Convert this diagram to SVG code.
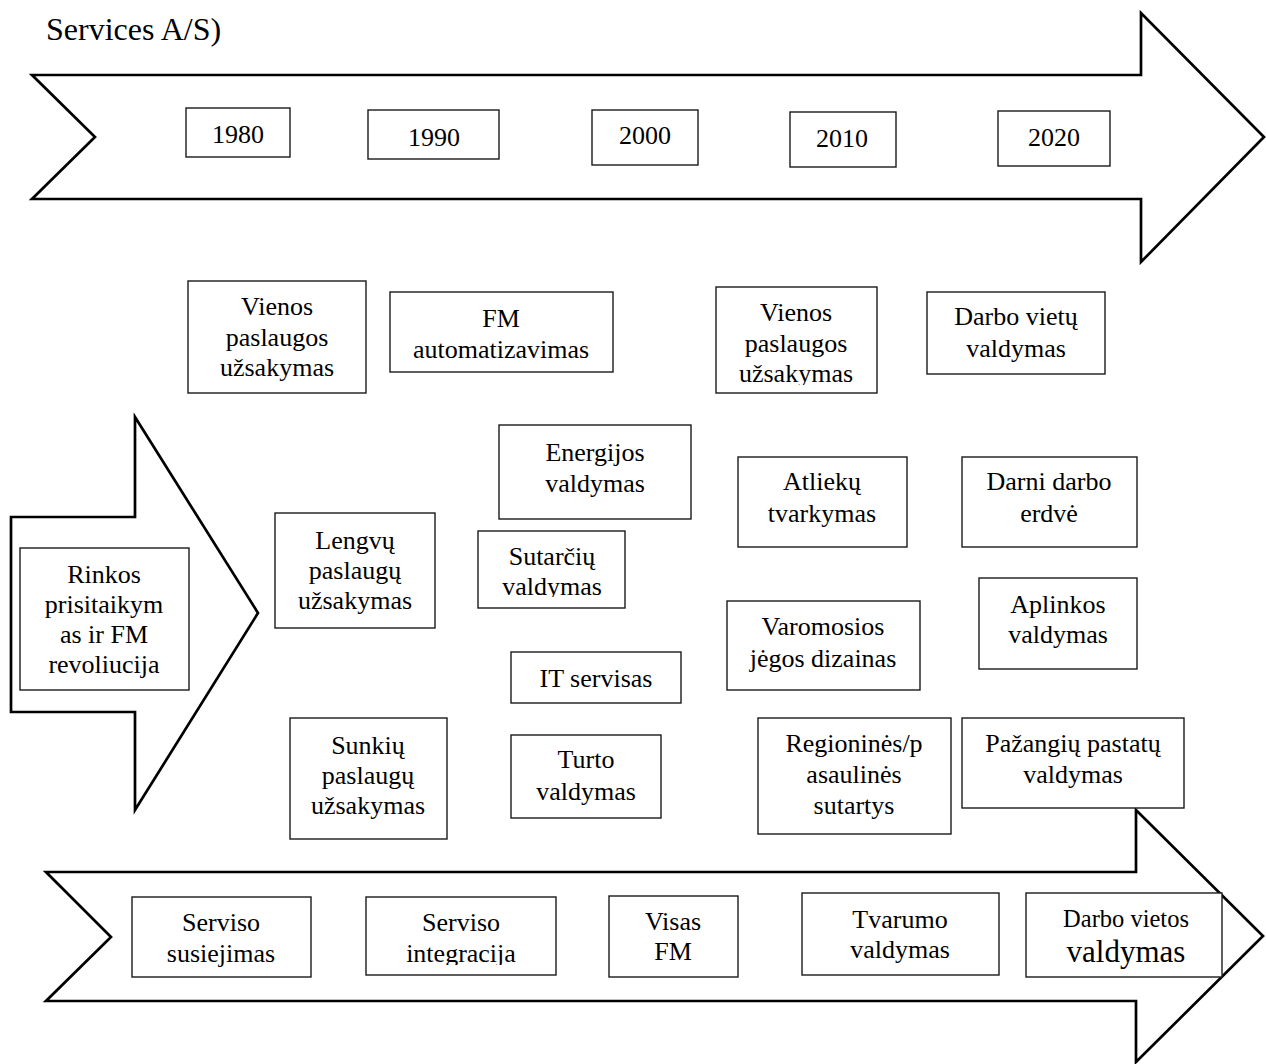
<svg xmlns="http://www.w3.org/2000/svg" width="1266" height="1064" viewBox="0 0 1266 1064">
  <style>
    .arrow { fill: #ffffff; stroke: #000000; stroke-width: 2.7; stroke-linejoin: miter; }
    .box { fill: #ffffff; stroke: #1a1a1a; stroke-width: 1.4; }
    .t { font-family: "Liberation Serif", "Times New Roman", serif; font-size: 26px; fill: #000000; text-anchor: middle; }
    .title { font-family: "Liberation Serif", "Times New Roman", serif; font-size: 32px; fill: #000000; }
  </style>
  <defs>
    <!-- inner text-frame limits: lines that overflow get cut -->
    <clipPath id="clip-vienos2"><rect x="716" y="287" width="161" height="98"/></clipPath>
    <clipPath id="clip-sutarciu"><rect x="478" y="531" width="147" height="66"/></clipPath>
    <clipPath id="clip-integracija"><rect x="366" y="897" width="190" height="68"/></clipPath>
  </defs>
  <rect width="1266" height="1064" fill="#ffffff"/>

  <text class="title" x="46" y="40">Services A/S)</text>

  <g id="arrows">
    <polygon class="arrow" points="32,75 1141,75 1141,13 1264,137 1141,262 1141,199 32,199 95,137"/>
    <polygon class="arrow" points="11,517 135,517 135,417 258,613 135,810 135,712 11,712"/>
    <polygon class="arrow" points="46,872 1136,872 1136,810 1263,936 1136,1062 1136,1001 46,1001 111,937"/>
  </g>

  <!-- timeline years -->
  <g id="y1980"><rect class="box" x="186" y="108" width="104" height="49"/><text class="t" x="238" y="143">1980</text></g>
  <g id="y1990"><rect class="box" x="368" y="110" width="131" height="49"/><text class="t" x="434" y="146">1990</text></g>
  <g id="y2000"><rect class="box" x="592" y="110" width="106" height="55"/><text class="t" x="645" y="144">2000</text></g>
  <g id="y2010"><rect class="box" x="790" y="112" width="106" height="55"/><text class="t" x="842" y="147">2010</text></g>
  <g id="y2020"><rect class="box" x="998" y="111" width="112" height="55"/><text class="t" x="1054" y="146">2020</text></g>

  <!-- service blocks -->
  <g id="vienos1"><rect class="box" x="188" y="281" width="178" height="112"/>
    <text class="t"><tspan x="277" y="315">Vienos</tspan><tspan x="277" y="346">paslaugos</tspan><tspan x="277" y="376">užsakymas</tspan></text></g>
  <g id="fm-auto"><rect class="box" x="390" y="292" width="223" height="80"/>
    <text class="t"><tspan x="501" y="327">FM</tspan><tspan x="501" y="358">automatizavimas</tspan></text></g>
  <g id="vienos2"><rect class="box" x="716" y="287" width="161" height="106"/>
    <text class="t" clip-path="url(#clip-vienos2)"><tspan x="796" y="321">Vienos</tspan><tspan x="796" y="352">paslaugos</tspan><tspan x="796" y="382">užsakymas</tspan></text></g>
  <g id="darbo-vietu"><rect class="box" x="927" y="292" width="178" height="82"/>
    <text class="t"><tspan x="1016" y="325">Darbo vietų</tspan><tspan x="1016" y="357">valdymas</tspan></text></g>
  <g id="energijos"><rect class="box" x="499" y="425" width="192" height="94"/>
    <text class="t"><tspan x="595" y="461">Energijos</tspan><tspan x="595" y="492">valdymas</tspan></text></g>
  <g id="atlieku"><rect class="box" x="738" y="457" width="169" height="90"/>
    <text class="t"><tspan x="822" y="490">Atliekų</tspan><tspan x="822" y="522">tvarkymas</tspan></text></g>
  <g id="darni"><rect class="box" x="962" y="457" width="175" height="90"/>
    <text class="t"><tspan x="1049" y="490">Darni darbo</tspan><tspan x="1049" y="522">erdvė</tspan></text></g>
  <g id="lengvu"><rect class="box" x="275" y="513" width="160" height="115"/>
    <text class="t"><tspan x="355" y="549">Lengvų</tspan><tspan x="355" y="579">paslaugų</tspan><tspan x="355" y="609">užsakymas</tspan></text></g>
  <g id="sutarciu"><rect class="box" x="478" y="531" width="147" height="77"/>
    <text class="t" clip-path="url(#clip-sutarciu)"><tspan x="552" y="565">Sutarčių</tspan><tspan x="552" y="595">valdymas</tspan></text></g>
  <g id="rinkos"><rect class="box" x="20" y="548" width="169" height="142"/>
    <text class="t"><tspan x="104" y="583">Rinkos</tspan><tspan x="104" y="613">prisitaikym</tspan><tspan x="104" y="643">as ir FM</tspan><tspan x="104" y="673">revoliucija</tspan></text></g>
  <g id="aplinkos"><rect class="box" x="979" y="578" width="158" height="91"/>
    <text class="t"><tspan x="1058" y="613">Aplinkos</tspan><tspan x="1058" y="643">valdymas</tspan></text></g>
  <g id="varomosios"><rect class="box" x="727" y="601" width="193" height="89"/>
    <text class="t"><tspan x="823" y="635">Varomosios</tspan><tspan x="823" y="667">jėgos dizainas</tspan></text></g>
  <g id="it"><rect class="box" x="511" y="652" width="170" height="51"/>
    <text class="t" x="596" y="687">IT servisas</text></g>
  <g id="sunkiu"><rect class="box" x="290" y="718" width="157" height="121"/>
    <text class="t"><tspan x="368" y="754">Sunkių</tspan><tspan x="368" y="784">paslaugų</tspan><tspan x="368" y="814">užsakymas</tspan></text></g>
  <g id="turto"><rect class="box" x="511" y="735" width="150" height="83"/>
    <text class="t"><tspan x="586" y="768">Turto</tspan><tspan x="586" y="800">valdymas</tspan></text></g>
  <g id="regionines"><rect class="box" x="758" y="718" width="193" height="116"/>
    <text class="t"><tspan x="854" y="752">Regioninės/p</tspan><tspan x="854" y="783">asaulinės</tspan><tspan x="854" y="814">sutartys</tspan></text></g>
  <g id="pazangiu"><rect class="box" x="962" y="718" width="222" height="90"/>
    <text class="t"><tspan x="1073" y="752">Pažangių pastatų</tspan><tspan x="1073" y="783">valdymas</tspan></text></g>

  <!-- bottom stages -->
  <g id="susiejimas"><rect class="box" x="132" y="897" width="179" height="80"/>
    <text class="t"><tspan x="221" y="931">Serviso</tspan><tspan x="221" y="962">susiejimas</tspan></text></g>
  <g id="integracija"><rect class="box" x="366" y="897" width="190" height="78"/>
    <text class="t" clip-path="url(#clip-integracija)"><tspan x="461" y="931">Serviso</tspan><tspan x="461" y="962">integracija</tspan></text></g>
  <g id="visas-fm"><rect class="box" x="609" y="896" width="129" height="81"/>
    <text class="t"><tspan x="673" y="930">Visas</tspan><tspan x="673" y="960">FM</tspan></text></g>
  <g id="tvarumo"><rect class="box" x="802" y="893" width="197" height="82"/>
    <text class="t"><tspan x="900" y="928">Tvarumo</tspan><tspan x="900" y="958">valdymas</tspan></text></g>
  <g id="darbo-vietos"><rect class="box" x="1026" y="893" width="196" height="84"/>
    <text class="t"><tspan x="1126" y="927" font-size="24.5">Darbo vietos</tspan><tspan x="1126" y="962" font-size="31">valdymas</tspan></text></g>
</svg>
